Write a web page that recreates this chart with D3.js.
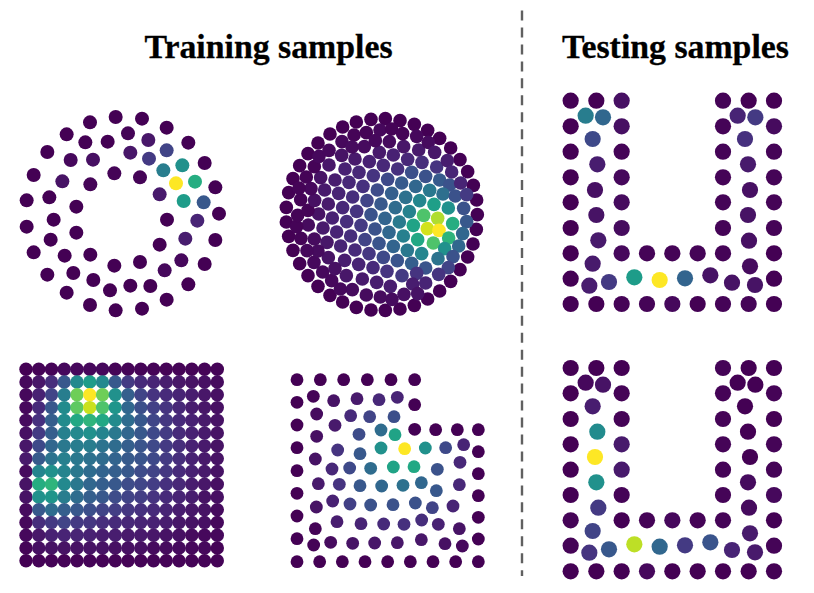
<!DOCTYPE html>
<html>
<head>
<meta charset="utf-8">
<script src="https://d3js.org/d3.v7.min.js"></script>
<style>
  html, body { margin: 0; padding: 0; background: #fff; }
  svg { display: block; }
  text { font-family: "Liberation Serif", serif; font-weight: bold; fill: #000; }
</style>
</head>
<body>
<svg></svg>
<script>
const width = 814;
const height = 593;

const ringSamples = [
  [317,51,0],[396,56,0],[470,83,0],[535,128,0],[584,189,0],[616,262,0],[627,341,0],[616,420,0],[584,492,0],[535,553,0],[470,599,0],[396,626,0],
  [317,631,0],[240,615,0],[170,578,0],[112,524,0],[71,457,0],[50,380,0],[50,301,0],[71,225,0],[112,156,0],[170,103,0],[240,67,0],
  [354,100,.01],[415,120,.06],[470,151,.2],[517,196,.5],[555,245,.62],[581,307,.27],[562,362,.1],[526,416,.08],[514,481,.02],[464,511,.02],[421,558,0],[361,557,0],
  [300,571,0],[250,540,0],[190,519,0],[164,467,0],[122,419,0],[131,359,0],[118,292,0],[157,244,.05],[182,180,.02],[226,127,0],[293,125,0],
  [361,158,.06],[417,176,.17],[460,211,.42],[498,250,1],[521,303,.55],[449,283,.07],[471,359,0],[449,434,0],[390,486,0],[313,497,0],[241,464,0],
  [199,398,0],[199,320,0],[241,253,.01],[313,220,.01],[390,232,.01],[249,179,.04]
];

const discSamples = [
  [288,28,0],[331,26,0],[375,32,0],[418,43,0],[458,61,0],[494,85,0],[527,114,0],[555,149,0],[578,185,0],[595,226,0],[605,270,0],[607,314,0],[604,358,0],[594,402,0],
  [578,441,0],[555,479,0],[527,514,0],[494,543,0],[458,567,0],[418,586,0],[375,597,0],[331,601,0],[288,600,0],[244,592,0],[203,576,0],[165,556,0],[129,529,0],[99,497,0],
  [74,461,0],[54,421,0],[41,379,0],[34,336,0],[34,292,0],[41,248,0],[54,206,0],[74,167,0],[99,131,0],[129,99,0],[165,72,0],[203,51,0],[244,36,0],
  [343,95,.03],[386,110,.06],[431,120,.07],[313,127,.07],[355,135,.09],[398,148,.11],[441,157,.13],[485,171,.15],
  [240,147,.07],[283,155,.09],[325,166,.11],[368,177,.14],[410,187,.24],[452,199,.25],[494,210,.28],[524,225,.25],
  [200,136,.05],[162,165,.06],[210,177,.09],[252,187,.11],[295,197,.15],[338,208,.22],[380,219,.28],[422,229,.33],[464,241,.4],[504,252,.36],[541,258,.25],
  [137,203,.05],[180,210,.08],[222,217,.11],[264,229,.14],[307,240,.23],[350,250,.3],[392,262,.37],[434,272,.46],[477,283,.56],[520,294,.5],
  [149,240,.07],[191,250,.1],[233,261,.13],[276,272,.2],[318,282,.27],[361,293,.35],[403,305,.44],[446,316,.72],[488,325,.88],[533,341,.62],
  [160,282,.07],[203,293,.11],[245,304,.15],[288,314,.25],[330,325,.32],[373,336,.41],[415,346,.58],[457,356,.93],[492,361,1],[521,384,.65],
  [131,312,.05],[172,324,.09],[215,335,.13],[258,346,.17],[300,357,.25],[342,367,.33],[385,378,.43],[428,389,.6],[475,399,.72],[509,416,.5],
  [144,354,.07],[185,366,.1],[227,378,.13],[270,389,.2],[312,400,.26],[355,409,.32],[397,421,.4],[440,431,.46],[489,446,.38],
  [100,345,.03],[156,397,.06],[197,408,.1],[240,420,.12],[282,431,.16],[325,442,.22],[367,452,.26],[410,460,.3],[452,474,.26],
  [160,443,.05],[209,451,.08],[251,463,.1],[294,473,.12],[336,484,.15],[381,497,.17],[214,497,.06],[262,507,.07],[305,517,.08],[346,529,.08],
  [315,60,.02],[350,57,.01],[383,71,.01],[425,79,.02],[460,97,.03],[479,127,.06],[517,152,.08],[530,186,.1],[557,219,.1],[575,254,.17],[566,295,.25],[575,335,.27],
  [563,371,.33],[551,408,.33],[534,440,.25],[520,473,.2],[491,493,.15],[452,519,.1],[425,490,.15],[413,522,.08],[428,551,.05],[387,553,.04],[351,568,.03],[316,561,.03],
  [274,555,.03],[232,539,.03],[196,537,.02],[170,512,.02],[180,476,.04],[143,486,.02],[117,457,.02],[129,423,.03],[96,422,.02],[118,387,.03],[78,385,.01],[65,350,.01],
  [68,316,.01],[99,301,.01],[77,269,.01],[119,271,.04],[108,236,.02],[72,234,.01],[94,201,.01],[118,170,.01],[132,139,.02],[162,121,.02],[201,95,.02],[237,75,.01],
  [274,68,.01],[231,111,.03],[268,110,.03],[301,92,.02]
];

// square panel is a regular 16x16 grid, so only the values are listed
const squareValues = [
  [0,.01,.01,.02,.02,.02,.02,.01,.01,.01,.01,.01,.01,.01,.01,.01],
  [.02,.06,.13,.27,.47,.55,.47,.27,.17,.12,.1,.08,.06,.05,.04,.03],
  [.02,.09,.2,.42,.78,1,.78,.5,.3,.2,.15,.12,.1,.08,.06,.04],
  [.02,.12,.27,.48,.75,.92,.72,.52,.33,.24,.19,.15,.11,.08,.06,.04],
  [.03,.14,.3,.48,.6,.65,.6,.48,.35,.27,.21,.16,.12,.09,.07,.05],
  [.04,.17,.3,.43,.47,.5,.45,.4,.33,.27,.22,.17,.12,.09,.07,.05],
  [.06,.22,.33,.4,.42,.42,.38,.35,.3,.26,.22,.17,.13,.09,.07,.05],
  [.07,.28,.38,.43,.4,.37,.35,.32,.28,.26,.22,.17,.13,.09,.07,.05],
  [.03,.45,.5,.45,.4,.35,.32,.3,.27,.23,.2,.16,.12,.09,.07,.05],
  [.05,.62,.65,.47,.4,.33,.3,.27,.23,.21,.18,.14,.11,.08,.06,.04],
  [.05,.5,.52,.42,.35,.3,.27,.23,.2,.18,.15,.12,.1,.08,.05,.04],
  [.03,.27,.35,.3,.27,.24,.2,.18,.16,.14,.12,.1,.08,.06,.05,.03],
  [.02,.13,.17,.2,.17,.16,.13,.12,.11,.1,.09,.08,.06,.05,.04,.02],
  [.02,.06,.09,.1,.1,.09,.08,.08,.07,.07,.06,.05,.04,.03,.02,.02],
  [.01,.04,.05,.05,.05,.05,.05,.04,.04,.04,.03,.03,.03,.02,.02,.01],
  [0,.01,.01,.01,.01,.01,.01,.01,.01,.01,.01,.01,.01,.01,.01,.01]
];

const notchSamples = [
  [51,44,0],[121,44,0],[191,44,0],[262,44,0],[333,44,0],[404,44,0],[51,112,0],[51,180,0],[51,248,0],[51,317,0],[51,385,0],[51,453,0],[51,521,0],[51,590,0],
  [119,590,0],[187,590,0],[255,590,0],[323,590,0],[391,590,0],[459,590,0],[527,590,0],[595,590,0],[595,522,0],[595,457,0],[595,392,0],[595,326,0],[595,260,0],[595,194,0],
  [404,193,0],[467,194,0],[532,194,0],[404,119,0],
  [100,94,.01],[161,107,.05],[231,101,.07],[297,104,.11],[352,97,.1],[110,147,.03],[212,152,.12],[269,155,.2],[342,155,.24],
  [165,181,.07],[110,214,.04],[237,208,.23],[303,195,.35],[345,209,.58],[173,255,.15],[240,266,.27],[303,249,.5],[374,251,1],[436,249,.5],[497,248,.22],[551,239,.1],
  [106,282,.05],[156,312,.11],[209,309,.22],[272,310,.35],[340,306,.58],[402,305,.6],[472,313,.25],[540,292,.11],
  [115,356,.07],[178,358,.15],[240,362,.27],[305,363,.33],[369,361,.37],[424,353,.33],[469,377,.27],[538,359,.11],
  [158,408,.09],[109,426,.05],[210,417,.19],[272,420,.25],[339,419,.25],[406,414,.25],[457,428,.2],[519,423,.1],
  [171,470,.08],[106,491,.01],[243,476,.1],[311,477,.12],[372,478,.14],[425,465,.13],[475,478,.09],[538,491,.05],
  [101,540,.01],[152,532,.03],[218,535,.05],[284,534,.06],[352,533,.06],[424,524,.06],[495,536,.04],[547,543,.02]
];

const uTopSamples = [
  [47,47,0],[47,124,0],[47,200,0],[47,277,0],[47,352,0],[47,429,0],[47,505,0],[47,581,0],[47,657,0],[124,47,0],[124,657,0],
  [200,47,.04],[200,124,.04],[200,200,.01],[200,277,.02],[200,352,.03],[200,429,.03],[200,505,.02],[200,657,.01],
  [276,657,.01],[352,657,.02],[428,657,0],[504,657,.01],[581,657,.01],[657,657,0],[276,505,.01],[352,505,.01],[428,505,.01],
  [504,47,.01],[504,124,.01],[504,200,.01],[504,277,.01],[504,352,.01],[504,429,.01],[504,505,.01],[581,47,0],
  [657,47,0],[657,124,.03],[657,200,.01],[657,277,.01],[657,352,.01],[657,429,.01],[657,505,0],[657,581,0],
  [92,92,.42],[144,97,.33],[113,162,.22],[127,238,.08],[120,315,.04],[124,390,.05],[130,466,.07],[113,536,.07],[103,602,.08],[162,591,.17],[238,577,.55],[314,585,1],
  [390,580,.32],[466,571,.05],[531,593,.05],[600,600,.05],[585,544,.03],[582,467,.04],[579,390,.05],[585,315,.04],[579,238,.07],[570,162,.14],[601,97,.17],[548,92,.1]
];

const uBottomSamples = [
  [47,54,0],[47,130,0],[47,207,0],[47,283,0],[47,359,0],[47,435,0],[47,511,.01],[47,587,.01],[47,664,0],[124,54,0],[200,54,0],
  [200,130,.01],[200,207,.01],[200,283,.07],[200,359,.07],[200,435,.01],[200,511,0],
  [124,664,0],[200,664,0],[276,664,.02],[352,664,0],[428,664,0],[504,664,0],[581,664,0],[657,664,0],[276,511,.01],[352,511,.02],[428,511,.01],
  [504,54,.01],[504,130,.01],[504,207,.01],[504,283,.01],[504,359,.01],[504,435,.01],[504,511,.01],[581,54,0],
  [657,54,0],[657,130,.01],[657,207,0],[657,283,.01],[657,359,.01],[657,435,.02],[657,511,0],[657,587,.01],
  [92,98,.02],[144,104,.05],[113,169,.08],[127,245,.48],[120,321,1],[124,397,.5],[130,473,.17],[113,543,.2],[103,608,.15],[162,598,.27],[238,583,.9],[314,590,.33],
  [390,586,.17],[466,577,.26],[531,600,.1],[600,607,.07],[585,550,.07],[582,473,.03],[579,397,.03],[585,321,0],[579,245,0],[570,169,0],[601,104,0],[548,98,0]
];

const titles = ["Training samples", "Testing samples"];

// flatten the grid into the same [x, y, value] form as the others
const squareSamples = squareValues.flatMap((row, j) => row.map((v, i) => [i, j, v]));

const panels = [
  { data: ringSamples,    xd: [0, 660],      yd: [0, 675],      x: [10, 230],      y: [100, 325],    r: 7 },
  { data: discSamples,    xd: [0, 645],      yd: [0, 645],      x: [275, 490],     y: [110, 325],    r: 6.8 },
  { data: squareSamples,  xd: [0, 15],       yd: [0, 15],       x: [26, 217.3],    y: [369.3, 560.7], r: 6.7 },
  { data: notchSamples,   xd: [0, 630],      yd: [0, 630],      x: [280, 490],     y: [365, 575],    r: 6.4 },
  { data: uTopSamples,    xd: [0, 705],      yd: [0, 705],      x: [555, 790],     y: [85, 320],     r: 8.1 },
  { data: uBottomSamples, xd: [0, 705],      yd: [0, 705],      x: [555, 790],     y: [350, 585],    r: 8.1 }
];

const color = d3.scaleSequential(d3.interpolateViridis).domain([0, 1]);

const svg = d3.select("svg")
              .attr("width", width)
              .attr("height", height)
              .attr("viewBox", `0 0 ${width} ${height}`);

panels.forEach(p => {
  const x = d3.scaleLinear().domain(p.xd).range(p.x);
  const y = d3.scaleLinear().domain(p.yd).range(p.y);

  svg.append("g")
    .selectAll("circle")
    .data(p.data)
    .join("circle")
      .attr("cx", d => x(d[0]))
      .attr("cy", d => y(d[1]))
      .attr("r", p.r)
      .attr("fill", d => color(d[2]));
});

svg.selectAll("text")
  .data(titles)
  .join("text")
    .attr("x", (d, i) => i === 0 ? 268.5 : 675.5)
    .attr("y", 58)
    .attr("text-anchor", "middle")
    .attr("font-size", 33.8)
    .attr("stroke", "#000")
    .attr("stroke-width", 0.3)
    .text(d => d);

svg.append("line")
  .attr("x1", 522).attr("x2", 522)
  .attr("y1", 10.5).attr("y2", 576)
  .attr("stroke", "#606060")
  .attr("stroke-width", 2.4)
  .attr("stroke-dasharray", "10 6.96");
</script>
</body>
</html>
